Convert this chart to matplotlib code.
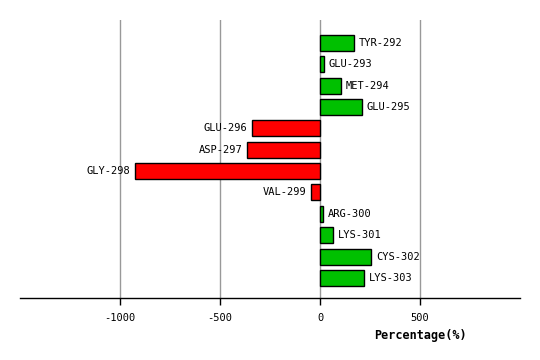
import matplotlib
matplotlib.use("Agg")
import matplotlib.pyplot as plt

residues = ["TYR-292", "GLU-293", "MET-294", "GLU-295", "GLU-296", "ASP-297",
            "GLY-298", "VAL-299", "ARG-300", "LYS-301", "CYS-302", "LYS-303"]
values = [170, 20, 105, 212, -340, -365, -925, -45, 15, 65, 257, 220]
ticks = [-1000, -500, 0, 500]

plt.rcParams['font.family'] = ['DejaVu Sans Mono']
fig = plt.figure(figsize=(5.4, 3.6), dpi=100)
ax = fig.add_axes([20/540, 1-298/360, 500/540, 278/360])

ypos = list(range(len(residues)))
colors = ["#00c000" if v >= 0 else "#ff0000" for v in values]
ax.barh(ypos, values, height=0.75, color=colors, edgecolor="black", linewidth=1, zorder=3)

for y, v, name in zip(ypos, values, residues):
    if v >= 0:
        ax.text(v + 22, y, name, ha="left", va="center", fontsize=7.5, zorder=4)
    else:
        ax.text(v - 22, y, name, ha="right", va="center", fontsize=7.5, zorder=4)

ax.set_xlim(-1500, 1000)
ax.set_ylim(len(residues) - 1 + 0.94, -1.07)
ax.set_xticks(ticks)
ax.set_xticklabels([str(t) for t in ticks], fontsize=7.5)
ax.set_yticks([])
for t in ticks:
    ax.axvline(t, color="#999999", linewidth=1, zorder=1)
for s in ["top", "right", "left"]:
    ax.spines[s].set_visible(False)
ax.spines["bottom"].set_linewidth(1)
ax.tick_params(axis="x", direction="out", length=5, width=1, pad=6)
ax.set_xlabel("Percentage(%)", fontsize=8.5, fontweight="bold")
ax.xaxis.set_label_coords(400/500, -31/278)

fig.savefig("out.png", dpi=100)
